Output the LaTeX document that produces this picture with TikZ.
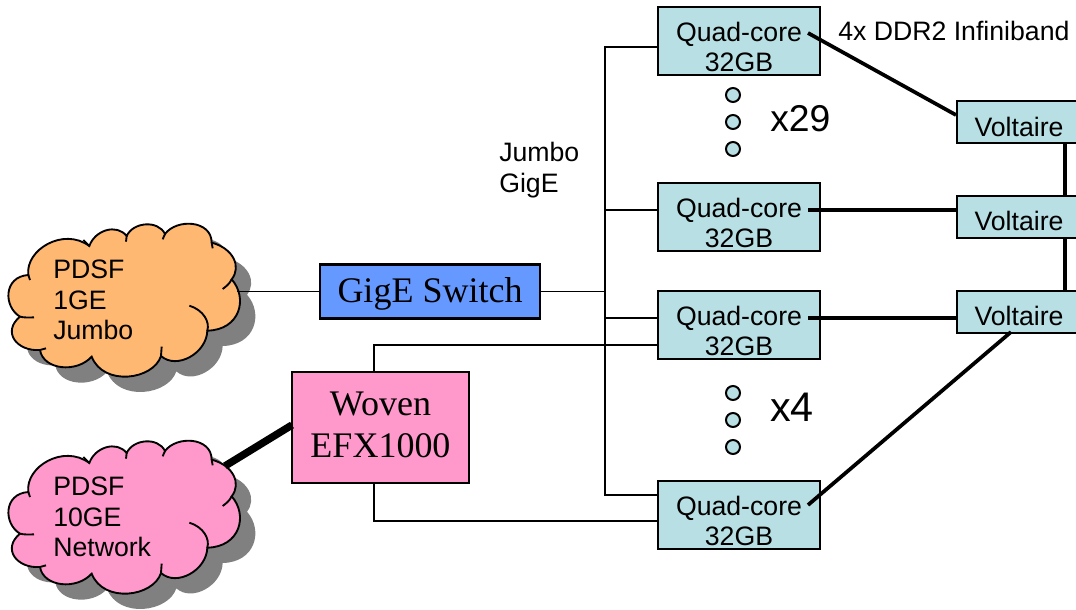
\documentclass[tikz,border=0pt]{standalone}
\usepackage{fontspec}
\setmainfont{Liberation Sans}
\newfontfamily\timesf{Liberation Serif}
\definecolor{qbox}{HTML}{B8DFE3}
\definecolor{orangec}{HTML}{FFB871}
\definecolor{pinkc}{HTML}{FF99CC}
\definecolor{blueb}{HTML}{6699FF}
\definecolor{shadowc}{HTML}{808080}
\newcommand{\cloudoutline}{(85,195) .. controls (75,120) and (190,50) .. (268,108)
 .. controls (285,60) and (350,40) .. (380,78)
 .. controls (400,35) and (475,30) .. (495,72)
 .. controls (530,25) and (635,30) .. (635,98)
 .. controls (700,115) and (725,170) .. (695,208)
 .. controls (745,265) and (720,360) .. (622,362)
 .. controls (620,430) and (530,480) .. (483,438)
 .. controls (460,510) and (310,530) .. (275,440)
 .. controls (230,490) and (130,480) .. (120,420)
 .. controls (50,425) and (5,365) .. (60,320)
 .. controls (10,290) and (10,200) .. (85,195) -- cycle}
\newcommand{\cloudticks}{%
 (85,195) -- (90,210)
 (268,108) -- (250,90)
 (380,78) -- (378,95)
 (495,72) -- (488,88)
 (635,98) -- (638,115)
 (695,208) .. controls (688,222) and (680,228) .. (668,237)
 (568,287) .. controls (610,300) and (630,335) .. (622,362)
 (483,438) -- (485,410)
 (120,420) -- (138,415)
 (60,320) .. controls (72,323) and (88,323) .. (102,322)}
\tikzset{
 thinlink/.style={draw=black,line width=1.2pt},
 thicklink/.style={draw=black,line width=2.8pt},
 heavylink/.style={draw=black,line width=5.6pt},
 quadbox/.style={draw=black,line width=1.6pt,fill=qbox,minimum width=121.5pt,minimum height=51pt,inner sep=0pt},
 voltbox/.style={draw=black,line width=1.6pt,fill=qbox,minimum width=90pt,minimum height=31.5pt,inner sep=0pt,anchor=west},
 quadtext/.style={align=center,font=\fontsize{20}{22.8}\selectfont,inner sep=0pt},
 volttext/.style={font=\fontsize{20}{22.5}\selectfont,inner sep=0pt},
 lefttext/.style={align=left,anchor=west,font=\fontsize{20}{22.8}\selectfont,inner sep=0pt},
 dotc/.style={circle,draw=black,line width=1.5pt,fill=qbox,minimum size=10.5pt,inner sep=0pt},
 serifbox/.style={draw=black,line width=1.9pt,inner sep=0pt,align=center,font=\timesf\fontsize{27}{32}\selectfont},
 bigtext/.style={anchor=west,inner sep=0pt},
}
\begin{document}
\begin{tikzpicture}[x=0.75pt,y=-0.75pt]
\useasboundingbox (0,0) rectangle (1076,610);
% clouds
\begin{scope}[shift={(0,210)},x=0.25pt,y=-0.25pt]
 \fill[shadowc,shift={(46,46)}] \cloudoutline;
 \draw[fill=orangec,line width=1.4pt] \cloudoutline;
 \draw[line width=1.4pt] \cloudticks;
\end{scope}
\begin{scope}[shift={(0,427)},x=0.25pt,y=-0.25pt]
 \fill[shadowc,shift={(46,46)}] \cloudoutline;
 \draw[fill=pinkc,line width=1.4pt] \cloudoutline;
 \draw[line width=1.4pt] \cloudticks;
\end{scope}
\coordinate (cloudA) at (237,291.5);
\coordinate (cloudB) at (225,466);
% boxes
\node[serifbox,fill=blueb,minimum width=165pt,minimum height=40.5pt] (switch) at (430,291.5) {};
\node[serifbox,fill=pinkc,minimum width=132.5pt,minimum height=83pt] (woven) at (380.5,427.5) {};
\node[quadbox] (q1) at (739,41) {};
\node[quadbox] (q2) at (739,217) {};
\node[quadbox] (q3) at (739,325) {};
\node[quadbox] (q4) at (739,515) {};
\node[voltbox] (v1) at (956,122) {};
\node[voltbox] (v2) at (956,217) {};
\node[voltbox] (v3) at (956,312) {};
% named points
\coordinate (busT) at (605,47);
\coordinate (busB) at (605,495);
\coordinate (busS) at (605,291.5);
\coordinate (b2) at (605,210);
\coordinate (b3) at (605,318);
\coordinate (w1) at (374,372);
\coordinate (w1c) at (374,345);
\coordinate (q3w) at (658,345);
\coordinate (w2) at (374,483);
\coordinate (w2c) at (374,521);
\coordinate (q4w) at (658,521);
\coordinate (q1w) at (658,47);
\coordinate (q2w) at (658,210);
\coordinate (q3u) at (658,318);
\coordinate (q4u) at (658,495);
\coordinate (t1) at (808,33);
\coordinate (t2) at (808,210);
\coordinate (t3) at (808,318);
\coordinate (t4) at (808,505);
\coordinate (u1) at (956,115);
\coordinate (u2) at (956,210);
\coordinate (u3) at (956,318);
\coordinate (u4) at (1011,332);
\coordinate (vA) at (1065,143);
\coordinate (vB) at (1065,196);
\coordinate (vC) at (1065,238);
\coordinate (vD) at (1065,291);
\coordinate (wh) at (292,425);
% thin links
\draw[thinlink] (cloudA) -- (switch.west);
\draw[thinlink] (switch.east) -- (busS);
\draw[thinlink,line cap=rect] (busT) -- (busB);
\draw[thinlink] (busT) -- (q1w);
\draw[thinlink] (b2) -- (q2w);
\draw[thinlink] (b3) -- (q3u);
\draw[thinlink] (busB) -- (q4u);
\draw[thinlink] (w1) -- (w1c) -- (q3w);
\draw[thinlink] (w2) -- (w2c) -- (q4w);
% thick links
\draw[thicklink] (t1) -- (u1);
\draw[thicklink] (t2) -- (u2);
\draw[thicklink] (t3) -- (u3);
\draw[thicklink] (t4) -- (u4);
\draw[thicklink] (vA) -- (vB);
\draw[thicklink] (vC) -- (vD);
\draw[heavylink] (cloudB) -- (wh);
% dots
\node[dotc] (d1) at (733,95) {};
\node[dotc] (d2) at (733,122) {};
\node[dotc] (d3) at (733,149) {};
\node[dotc] (d4) at (733,393) {};
\node[dotc] (d5) at (733,420) {};
\node[dotc] (d6) at (733,447) {};
% texts
\node[quadtext] (tq1) at (739,47) {Quad-core\\32GB};
\node[quadtext] (tq2) at (739,223) {Quad-core\\32GB};
\node[quadtext] (tq3) at (739,331) {Quad-core\\32GB};
\node[quadtext] (tq4) at (739,521) {Quad-core\\32GB};
\node[volttext] (tv1) at (1019,127) {Voltaire};
\node[volttext] (tv2) at (1019,221) {Voltaire};
\node[volttext] (tv3) at (1019,316) {Voltaire};
\node[font=\fontsize{20}{24}\selectfont,inner sep=0pt,anchor=west] (ib) at (838,31) {4x DDR2 Infiniband};
\node[bigtext,font=\fontsize{28}{30}\selectfont] (x29) at (770,118.5) {x29};
\node[bigtext,font=\fontsize{31}{33}\selectfont] (x4) at (770,407.5) {x4};
\node[lefttext] (jg) at (499,170) {Jumbo\\GigE};
\node[lefttext] (pa) at (53,300) {PDSF\\1GE\\Jumbo};
\node[lefttext] (pb) at (53,517) {PDSF\\10GE\\Network};
\node[serifbox,draw=none] (tsw) at (430,294) {GigE Switch};
\node[serifbox,draw=none] (twv) at (380.5,425) {Woven\\EFX1000};
\end{tikzpicture}
\end{document}
